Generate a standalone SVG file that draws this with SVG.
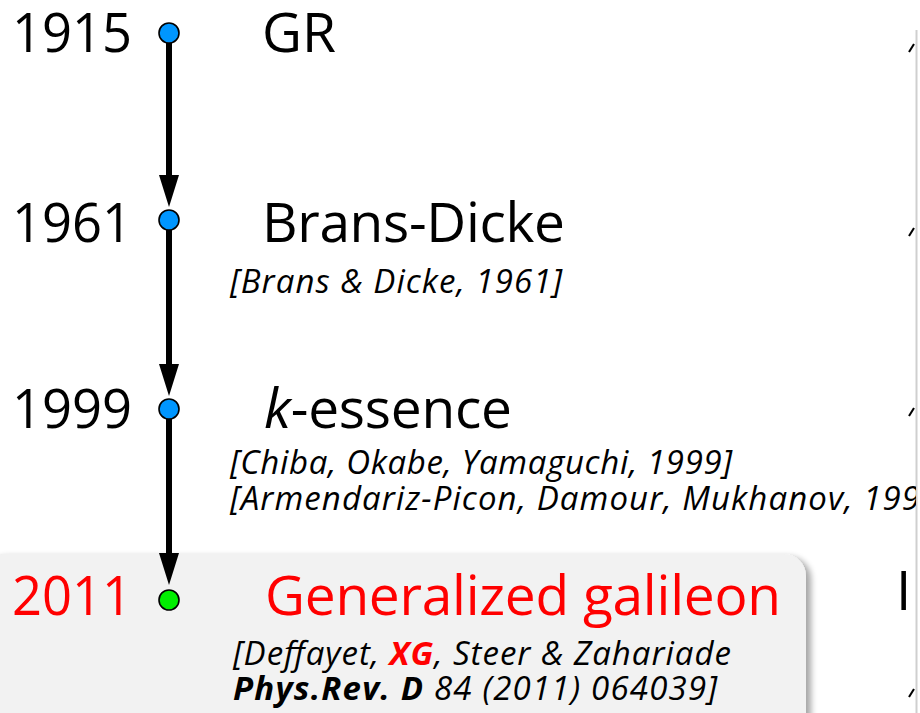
<svg xmlns="http://www.w3.org/2000/svg" width="920" height="713" viewBox="0 0 920 713">
<defs>
<style>
.big{font-family:"Open Sans","Noto Sans","Liberation Sans",sans-serif;font-size:55px;fill:#000}
.ref{font-family:"Open Sans","Noto Sans","Liberation Sans",sans-serif;font-size:33px;font-style:italic;fill:#000}
.red{fill:#ff0000}
.dot{stroke:#000;stroke-width:1.6}
.conn{stroke:#000;stroke-width:6;fill:none}
</style>
<filter id="sh" x="-5%" y="-5%" width="115%" height="120%">
<feGaussianBlur in="SourceAlpha" stdDeviation="3"/>
<feOffset dx="5" dy="3"/>
<feComponentTransfer><feFuncA type="linear" slope="0.35"/></feComponentTransfer>
<feMerge><feMergeNode/><feMergeNode in="SourceGraphic"/></feMerge>
</filter>
<clipPath id="cl"><rect x="0" y="0" width="916" height="713"/></clipPath>
</defs>
<rect width="920" height="713" fill="#fff"/>
<rect x="-20" y="554" width="826" height="200" rx="22" fill="#f2f2f2" filter="url(#sh)"/>
<g id="right-edge">
<line x1="916.5" y1="30" x2="916.5" y2="713" stroke="#cfcfcf" stroke-width="2"/>
<text class="big" x="896" y="610" clip-path="url(#cl)">I</text>
<line x1="909" y1="52" x2="914" y2="44" stroke="#000" stroke-width="2"/>
<line x1="909" y1="236" x2="914" y2="228" stroke="#000" stroke-width="2"/>
<line x1="909" y1="416" x2="914" y2="408" stroke="#000" stroke-width="2"/>
<line x1="909" y1="697" x2="914" y2="689" stroke="#000" stroke-width="2"/>
</g>
<g id="connectors">
<line class="conn" x1="169" y1="43" x2="169" y2="180"/>
<path d="M159,175 L179,175 L169,207 Z"/>
<line class="conn" x1="169" y1="230" x2="169" y2="368"/>
<path d="M159,364 L179,364 L169,396 Z"/>
<line class="conn" x1="169" y1="419" x2="169" y2="556"/>
<path d="M159,553 L179,553 L169,585 Z"/>
</g>
<g id="n1915">
<text class="big" x="12" y="52" textLength="120" lengthAdjust="spacingAndGlyphs">1915</text>
<circle class="dot" cx="169" cy="33" r="10" fill="#0096ff"/>
<text class="big" x="262" y="52" textLength="74">GR</text>
</g>
<g id="n1961">
<text class="big" x="12" y="242" textLength="120" lengthAdjust="spacingAndGlyphs">1961</text>
<circle class="dot" cx="169" cy="220" r="10" fill="#0096ff"/>
<text class="big" x="262" y="242" textLength="303">Brans-Dicke</text>
<text class="ref" x="230" y="293" textLength="332">[Brans &amp; Dicke, 1961]</text>
</g>
<g id="n1999">
<text class="big" x="12" y="428" textLength="120" lengthAdjust="spacingAndGlyphs">1999</text>
<circle class="dot" cx="169" cy="409" r="10" fill="#0096ff"/>
<text class="big" x="264" y="428" textLength="248"><tspan font-style="italic">k</tspan>-essence</text>
<text class="ref" x="230" y="474" textLength="502">[Chiba, Okabe, Yamaguchi, 1999]</text>
<text class="ref" x="230" y="510" textLength="720" clip-path="url(#cl)">[Armendariz-Picon, Damour, Mukhanov, 1999]</text>
</g>
<g id="n2011">
<text class="big red" x="12" y="615" textLength="120" lengthAdjust="spacingAndGlyphs">2011</text>
<circle class="dot" cx="169" cy="600" r="10" fill="#00ee00"/>
<text class="big red" x="265" y="615" textLength="516">Generalized galileon</text>
<text class="ref" x="233" y="665" textLength="498">[Deffayet, <tspan class="red" font-weight="bold">XG</tspan>, Steer &amp; Zahariade</text>
<text class="ref" x="233" y="700" textLength="484"><tspan font-weight="bold">Phys.Rev. D</tspan> 84 (2011) 064039]</text>
</g>
</svg>
